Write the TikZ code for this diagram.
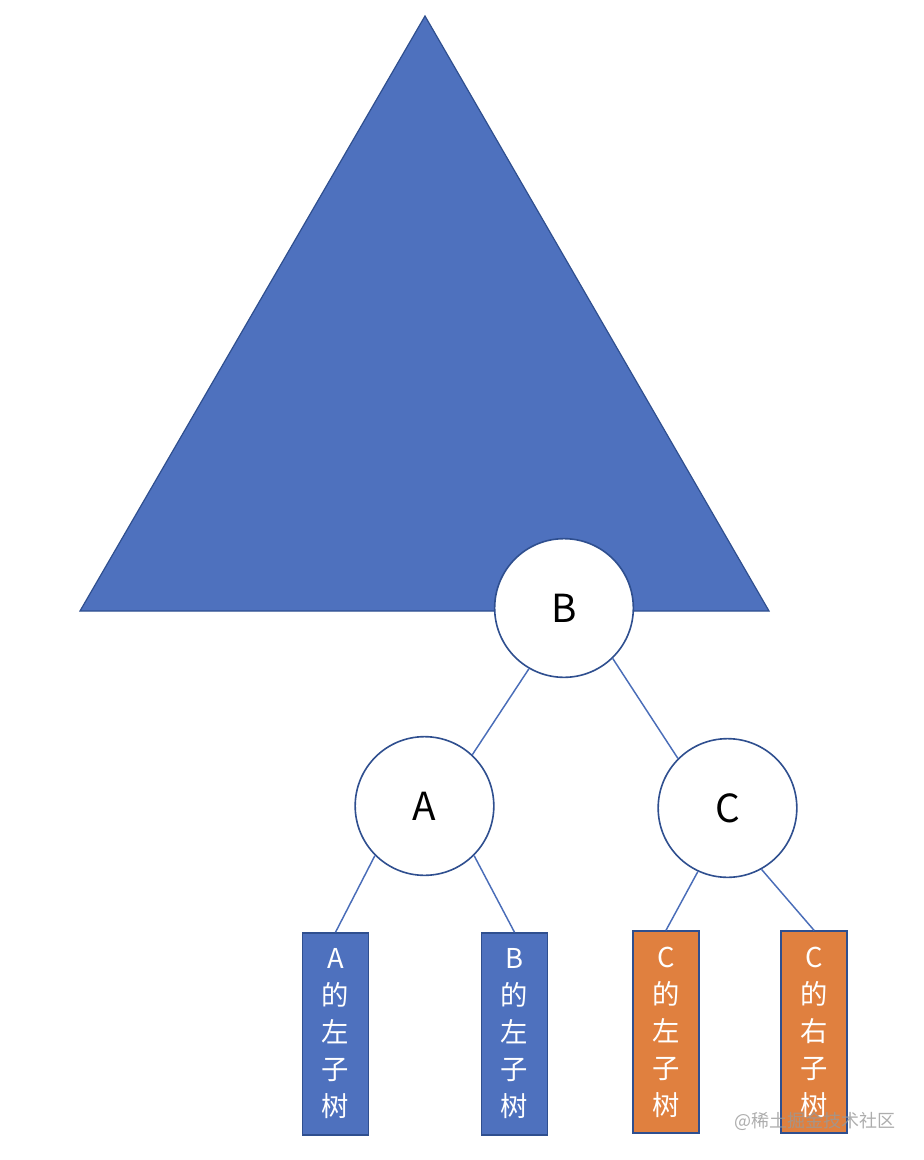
\documentclass[tikz,border=0pt]{standalone}
\usepackage{fontspec}
\setmainfont{Noto Sans CJK SC}
\usetikzlibrary{positioning,shapes}
\definecolor{treeblue}{HTML}{4E71BE}
\definecolor{treeedge}{HTML}{2F4F8F}
\definecolor{treeorange}{HTML}{E0803F}
\definecolor{linkblue}{HTML}{4A6DB8}
\tikzstyle{keynode}=[draw=treeedge,circle,fill=white,line width=1.2pt,minimum size=104pt,inner sep=0pt,font=\fontsize{29}{32}\selectfont]
\tikzstyle{subtree}=[draw=treeedge,rectangle,line width=1.1pt,minimum width=49.5pt,minimum height=151.5pt,inner sep=0pt,text=white,align=center,font=\fontsize{20.5}{27.75}\selectfont]
\tikzstyle{link}=[draw=linkblue,line width=1.1pt]
\newcommand{\newKey}[4]{\node[keynode,#3](#1) at (#4){#2};}
\newcommand{\newSub}[4]{\node[subtree,#3](#1) at (#4){#2};}
\newcommand{\newLink}[2]{\path[link] (#1) -- (#2);}

\begin{document}
\begin{tikzpicture}[x=0.75pt,y=-0.75pt]
      \useasboundingbox (0,0) rectangle (924,1160);
      % big tree above B
      \coordinate (top) at (425,16);
      \coordinate (bl) at (80,611);
      \coordinate (br) at (769,611);
      \filldraw[fill=treeblue,draw=treeedge,line width=0.9pt] (top) -- (bl) -- (br) -- cycle;
      \newKey{B}{B}{}{564,608}
      \newKey{A}{A}{}{424.5,806}
      \newKey{C}{C}{}{727.5,808}
      \newLink{B.240}{A.47}
      \newLink{B.314}{C.135}
      \newSub{sA}{A\\的\\左\\子\\树}{fill=treeblue}{335.5,1034}
      \newSub{sB}{B\\的\\左\\子\\树}{fill=treeblue}{514.5,1034}
      \newSub{sCl}{C\\的\\左\\子\\树}{fill=treeorange}{666,1032}
      \newSub{sCr}{C\\的\\右\\子\\树}{fill=treeorange}{814,1032}
      \newLink{A.225}{sA.north}
      \newLink{A.315}{sB.north}
      \newLink{C.245}{sCl.north}
      \newLink{C.299}{sCr.north}
      % watermark
      \node[text=black!40,font=\fontsize{13.5}{15}\selectfont,opacity=0.8] (mark) at (815,1121) {@稀土掘金技术社区};
    \end{tikzpicture}
\end{document}
